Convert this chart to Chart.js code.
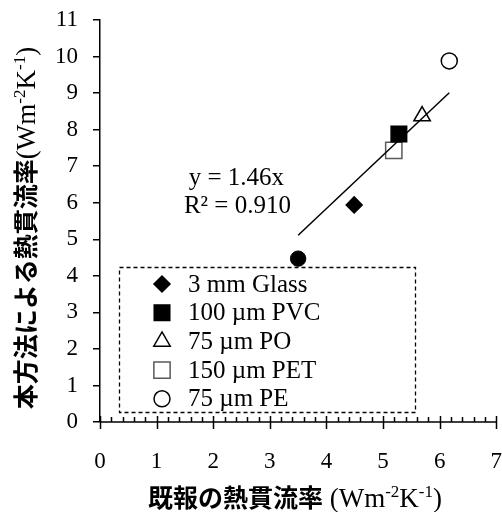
<!DOCTYPE html>
<html>
<head>
<meta charset="utf-8">
<script src="https://cdn.jsdelivr.net/npm/chart.js@4.4.1/dist/chart.umd.min.js"></script>
<style>
  html, body { margin: 0; padding: 0; background: #fff; }
  #wrap { width: 502px; height: 512px; position: relative; }
</style>
</head>
<body>
<div id="wrap"><canvas id="chart" width="502" height="512"></canvas></div>
<script>
// Overall heat transfer coefficient (W m-2 K-1): literature value vs. this method
const sampleNames = ['3 mm Glass', '100 µm PVC', '75 µm PO', '150 µm PET', '75 µm PE'];
const reportedU = [4.49, 5.28, 5.69, 5.19, 6.17];
const measuredU = [5.94, 7.88, 8.37, 7.43, 9.88];

// additional sample plotted without a legend entry
const extraReportedU = [3.5];
const extraMeasuredU = [4.47];

// least-squares line through the origin
const fitSlope = 1.46;
const fitR2 = '0.910';

// axis ranges / tick labels
const xTickValues = [0, 1, 2, 3, 4, 5, 6, 7];
const yTickValues = [0, 1, 2, 3, 4, 5, 6, 7, 8, 9, 10, 11];

const SERIF = '"Liberation Serif", "Times New Roman", serif';
const GOTHIC = '"Noto Sans CJK JP", "Noto Sans", sans-serif';

const markerStyles = [
  { pointStyle: 'rectRot',  radius: 8,    bg: '#000', border: '#000' },
  { pointStyle: 'rect',     radius: 11,   bg: '#000', border: '#000' },
  { pointStyle: 'triangle', radius: 9.5,  bg: '#fff', border: '#000' },
  { pointStyle: 'rect',     radius: 11.5, bg: '#fff', border: '#5a5a5a' },
  { pointStyle: 'circle',   radius: 8,    bg: '#fff', border: '#000' }
];

const allX = reportedU.concat(extraReportedU);
const fitStart = Math.min(...allX);
const fitEnd = Math.max(...allX);

const datasets = [];
// regression line, drawn above the markers
datasets.push({
  type: 'line',
  label: 'fit',
  data: [{ x: fitStart, y: fitSlope * fitStart }, { x: fitEnd, y: fitSlope * fitEnd }],
  borderColor: '#000',
  borderWidth: 1.5,
  pointRadius: 0,
  fill: false,
  order: 0
});
sampleNames.forEach((name, i) => {
  const st = markerStyles[i];
  datasets.push({
    type: 'scatter',
    label: name,
    data: [{ x: reportedU[i], y: measuredU[i] }],
    pointStyle: st.pointStyle,
    pointRadius: st.radius,
    backgroundColor: st.bg,
    borderColor: st.border,
    borderWidth: 1.5,
    order: 1
  });
});
datasets.push({
  type: 'scatter',
  label: 'extra',
  data: extraReportedU.map((x, i) => ({ x: x, y: extraMeasuredU[i] })),
  pointStyle: 'circle',
  pointRadius: 7.7,
  backgroundColor: '#000',
  borderColor: '#000',
  borderWidth: 1,
  order: 1
});

// own marker drawing for the legend box
function drawMarker(ctx, st, x, y) {
  const r = st.radius;
  ctx.save();
  ctx.fillStyle = st.bg;
  ctx.strokeStyle = st.border;
  ctx.lineWidth = 1.5;
  ctx.beginPath();
  if (st.pointStyle === 'circle') {
    ctx.arc(x, y, r, 0, Math.PI * 2);
  } else if (st.pointStyle === 'rect') {
    const s = r * Math.SQRT1_2;
    ctx.rect(x - s, y - s, 2 * s, 2 * s);
  } else if (st.pointStyle === 'rectRot') {
    ctx.moveTo(x - r, y); ctx.lineTo(x, y - r); ctx.lineTo(x + r, y); ctx.lineTo(x, y + r);
    ctx.closePath();
  } else if (st.pointStyle === 'triangle') {
    let a = 0;
    ctx.moveTo(x + Math.sin(a) * r, y - Math.cos(a) * r);
    a += 2 * Math.PI / 3;
    ctx.lineTo(x + Math.sin(a) * r, y - Math.cos(a) * r);
    a += 2 * Math.PI / 3;
    ctx.lineTo(x + Math.sin(a) * r, y - Math.cos(a) * r);
    ctx.closePath();
  }
  ctx.fill();
  ctx.stroke();
  ctx.restore();
}

// text made of runs with different fonts and superscripts
function richWidth(ctx, runs) {
  let w = 0;
  runs.forEach(r => { ctx.font = r.font; w += ctx.measureText(r.text).width; });
  return w;
}
function drawRich(ctx, runs, cx, baseline) {
  const total = richWidth(ctx, runs);
  let x = cx - total / 2;
  ctx.textAlign = 'left';
  ctx.textBaseline = 'alphabetic';
  ctx.fillStyle = '#000';
  runs.forEach(r => {
    ctx.font = r.font;
    ctx.fillText(r.text, x, baseline - (r.rise || 0));
    x += ctx.measureText(r.text).width;
  });
}

const unitRuns = (lead) => [
  { text: lead + '(Wm', font: '27px ' + SERIF },
  { text: '-2', font: '17px ' + SERIF, rise: 10 },
  { text: 'K', font: '27px ' + SERIF },
  { text: '-1', font: '17px ' + SERIF, rise: 10 },
  { text: ')', font: '27px ' + SERIF }
];

const decorPlugin = {
  id: 'decor',
  afterDraw(chart) {
    const ctx = chart.ctx;
    const xs = chart.scales.x, ys = chart.scales.y;
    const area = chart.chartArea;
    const axisY = area.bottom;

    // x-axis: major ticks crossing the axis, minor ticks inside
    ctx.save();
    ctx.strokeStyle = '#000';
    ctx.lineWidth = 1.5;
    ctx.beginPath();
    ctx.moveTo(area.left, axisY);
    ctx.lineTo(xs.getPixelForValue(xTickValues[xTickValues.length - 1]) + 0.75, axisY);
    for (let i = 0; i <= 35; i++) {
      const px = Math.round(xs.getPixelForValue(i * 0.2)) + 0.5;
      const major = i % 5 === 0;
      ctx.moveTo(px, axisY + (major ? 7 : 0));
      ctx.lineTo(px, axisY - (major ? 6 : 5));
    }
    ctx.stroke();
    ctx.restore();

    // legend box
    const bx = area.left + 19, by = 267, bw = 296, bh = 145;
    ctx.save();
    ctx.strokeStyle = '#000';
    ctx.lineWidth = 1.3;
    ctx.setLineDash([4, 3]);
    ctx.strokeRect(bx + 0.5, by + 0.5, bw, bh);
    ctx.restore();

    ctx.save();
    ctx.font = '25px ' + SERIF;
    ctx.textAlign = 'left';
    ctx.textBaseline = 'middle';
    ctx.fillStyle = '#000';
    sampleNames.forEach((name, i) => {
      const rowY = by + 17 + i * 28.7;
      drawMarker(ctx, markerStyles[i], bx + 43, rowY);
      ctx.fillText(name, bx + 69, rowY + 1);
    });
    ctx.restore();

    // regression equation
    ctx.save();
    ctx.fillStyle = '#000';
    ctx.font = '25px ' + SERIF;
    ctx.textAlign = 'center';
    ctx.textBaseline = 'alphabetic';
    const ex = xs.getPixelForValue(2.41);
    const ey = ys.getPixelForValue(6.48);
    ctx.fillText('y = ' + fitSlope.toFixed(2) + 'x', ex, ey);
    ctx.fillText('R² = ' + fitR2, ex + 1, ey + 28);
    ctx.restore();

    // axis titles
    ctx.save();
    const xRuns = [{ text: '既報の熱貫流率', font: 'bold 25px ' + GOTHIC }].concat(unitRuns(' '));
    drawRich(ctx, xRuns, 295, 507);
    ctx.restore();

    ctx.save();
    ctx.translate(35, 228);
    ctx.rotate(-Math.PI / 2);
    const yRuns = [{ text: '本方法による熱貫流率', font: 'bold 25px ' + GOTHIC }].concat(unitRuns(''));
    drawRich(ctx, yRuns, 0, 0);
    ctx.restore();
  }
};

new Chart(document.getElementById('chart'), {
  type: 'scatter',
  data: { datasets: datasets },
  options: {
    responsive: false,
    animation: false,
    events: [],
    layout: { autoPadding: false, padding: { top: 20, right: 5, left: 0, bottom: 0 } },
    plugins: { legend: { display: false }, tooltip: { enabled: false } },
    scales: {
      x: {
        type: 'linear',
        min: xTickValues[0],
        max: xTickValues[xTickValues.length - 1],
        afterBuildTicks: s => { s.ticks = xTickValues.map(v => ({ value: v })); },
        // tick marks are drawn by the decor plugin; tickLength only offsets the labels
        grid: { display: false, drawTicks: true, tickLength: 26 },
        border: { display: false },
        ticks: { color: '#000', font: { family: SERIF, size: 23 }, padding: 0, maxRotation: 0, autoSkip: false },
        afterFit: s => { s.height = 90; }
      },
      y: {
        type: 'linear',
        min: yTickValues[0],
        max: yTickValues[yTickValues.length - 1],
        afterBuildTicks: s => { s.ticks = yTickValues.map(v => ({ value: v })); },
        grid: { display: true, drawOnChartArea: false, drawTicks: true, tickLength: 7, color: '#000', lineWidth: 1.5 },
        border: { display: true, color: '#000', width: 1.5 },
        ticks: { color: '#000', font: { family: SERIF, size: 23 }, padding: 15, autoSkip: false },
        afterFit: s => { s.width = 100; s.paddingTop = 0; s.paddingBottom = 0; }
      }
    }
  },
  plugins: [decorPlugin]
});
</script>
</body>
</html>
